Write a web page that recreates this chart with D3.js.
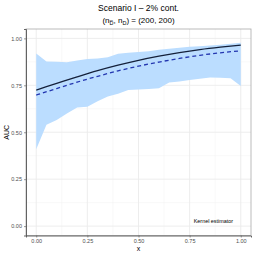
<!DOCTYPE html>
<html><head><meta charset="utf-8">
<script src="https://cdn.jsdelivr.net/npm/d3@7"></script>
<style>body{margin:0;background:#fff}svg{display:block;font-family:"Liberation Sans",Arial,sans-serif}</style>
</head><body><div id="chart"></div>
<script>
const lineX = [0,0.1,0.2,0.3,0.4,0.5,0.6,0.7,0.8,0.9,1.0];
const trueAUC = [0.725,0.760,0.795,0.828,0.857,0.883,0.905,0.924,0.940,0.953,0.964];
const estAUC = [0.698,0.733,0.767,0.798,0.827,0.852,0.874,0.893,0.910,0.923,0.934];
const bandX = [0,0.05,0.1,0.15,0.2,0.25,0.3,0.35,0.4,0.45,0.5,0.55,0.6,0.65,0.7,0.75,0.8,0.85,0.9,0.95,1.0];
const bandUpper = [0.92,0.877,0.875,0.873,0.882,0.89,0.893,0.90,0.918,0.923,0.928,0.932,0.94,0.945,0.95,0.955,0.958,0.962,0.966,0.971,0.977];
const bandLower = [0.41,0.54,0.565,0.60,0.632,0.636,0.665,0.69,0.705,0.725,0.728,0.73,0.735,0.765,0.77,0.778,0.785,0.792,0.79,0.787,0.746];
const tickVals = [0,0.25,0.5,0.75,1];
const tickLabels = ["0.00","0.25","0.50","0.75","1.00"];

const W=254,H=254;
const svg=d3.select("#chart").append("svg").attr("width",W).attr("height",H);
const L=26,R=251,T=29,B=235.5;
const x=d3.scaleLinear().domain([-0.05,1.05]).range([L,R]);
const y=d3.scaleLinear().domain([-0.05,1.05]).range([B,T]);

svg.append("rect").attr("x",L).attr("y",T).attr("width",R-L).attr("height",B-T).attr("fill","#fff");
const minor=[0.125,0.375,0.625,0.875];
const g=svg.append("g");
minor.forEach(v=>{
  g.append("line").attr("x1",x(v)).attr("x2",x(v)).attr("y1",T).attr("y2",B).attr("stroke","#F2F2F2").attr("stroke-width",0.5);
  g.append("line").attr("y1",y(v)).attr("y2",y(v)).attr("x1",L).attr("x2",R).attr("stroke","#F2F2F2").attr("stroke-width",0.5);
});
tickVals.forEach(v=>{
  g.append("line").attr("x1",x(v)).attr("x2",x(v)).attr("y1",T).attr("y2",B).attr("stroke","#EBEBEB").attr("stroke-width",0.9);
  g.append("line").attr("y1",y(v)).attr("y2",y(v)).attr("x1",L).attr("x2",R).attr("stroke","#EBEBEB").attr("stroke-width",0.9);
});

const band=bandX.map((d,i)=>({x:d,lo:bandLower[i],hi:bandUpper[i]}));
svg.append("path").datum(band).attr("fill","#BBDDFF")
  .attr("d",d3.area().x(d=>x(d.x)).y0(d=>y(d.lo)).y1(d=>y(d.hi)));

const ln=d3.line().x(d=>x(d[0])).y(d=>y(d[1])).curve(d3.curveMonotoneX);
svg.append("path").datum(lineX.map((d,i)=>[d,estAUC[i]])).attr("fill","none")
  .attr("stroke","#2336B0").attr("stroke-width",1.3).attr("stroke-dasharray","4,3").attr("d",ln);
svg.append("path").datum(lineX.map((d,i)=>[d,trueAUC[i]])).attr("fill","none")
  .attr("stroke","#14203A").attr("stroke-width",1.3).attr("d",ln);

// panel border
svg.append("rect").attr("x",L).attr("y",T).attr("width",R-L).attr("height",B-T).attr("fill","none").attr("stroke","#AAAAAA").attr("stroke-width",0.8);

const xa=svg.append("g").attr("transform",`translate(0,${B})`)
  .call(d3.axisBottom(x).tickValues(tickVals).tickFormat((d,i)=>tickLabels[i]).tickSize(2).tickPadding(2));
const ya=svg.append("g").attr("transform",`translate(${L},0)`)
  .call(d3.axisLeft(y).tickValues(tickVals).tickFormat((d,i)=>tickLabels[i]).tickSize(2).tickPadding(2));
[xa,ya].forEach(a=>{
  a.select(".domain").attr("stroke","#555").attr("stroke-width",0.9);
  a.selectAll(".tick line").attr("stroke","#555").attr("stroke-width",0.6);
  a.selectAll("text").attr("fill","#4D4D4D").style("font-size","5.5px").style("font-family","Liberation Sans, Arial, sans-serif");
});

svg.append("text").attr("x",x(0.5)).attr("y",250.5).attr("text-anchor","middle").attr("font-size","7px").text("x");
svg.append("text").attr("transform",`translate(9,${y(0.5)}) rotate(-90)`).attr("text-anchor","middle").attr("font-size","7px").text("AUC");

svg.append("text").attr("x",(L+R)/2).attr("y",11).attr("text-anchor","middle").attr("font-size","8.5px").text("Scenario I – 2% cont.");
const sub=svg.append("text").attr("x",(L+R)/2).attr("y",23).attr("text-anchor","middle").attr("font-size","8px");
sub.append("tspan").text("(n");
sub.append("tspan").attr("font-size","5.5px").attr("dy",2).text("D\u0305");
sub.append("tspan").attr("dy",-2).text(", n");
sub.append("tspan").attr("font-size","5.5px").attr("dy",2).text("D");
sub.append("tspan").attr("dy",-2).text(") = (200, 200)");

svg.append("text").attr("x",233).attr("y",223).attr("text-anchor","end").attr("font-size","5.4px").text("Kernel estimator");
</script></body></html>
